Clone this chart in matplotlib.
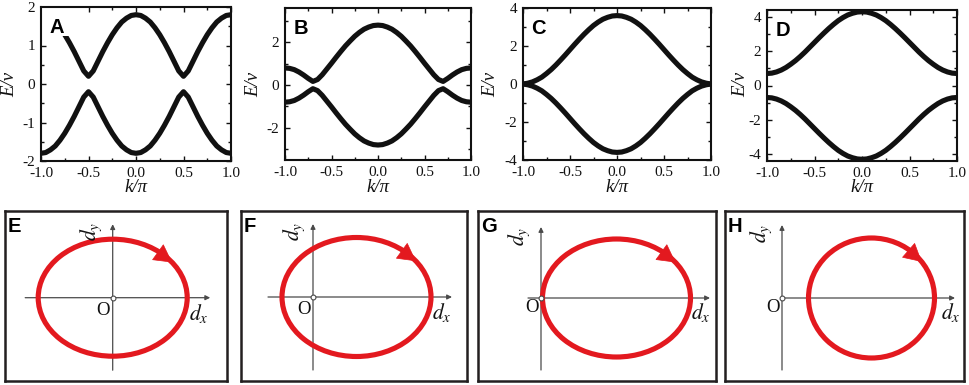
import numpy as np
import matplotlib
matplotlib.use('Agg')
import matplotlib.pyplot as plt
from matplotlib.patches import Ellipse, Rectangle, FancyArrowPatch
from matplotlib.ticker import MultipleLocator

plt.rcParams['axes.unicode_minus'] = False
plt.rcParams['mathtext.fontset'] = 'stix'

W, H = 969, 385
SERIF = 'Liberation Serif'
SANS = 'Liberation Sans'
RED = '#e3191f'
INK = '#111111'

# ── Band data, k in units of pi ───────────────────────────────────────
k_pi = np.linspace(-1.0, 1.0, 41)

upper_A = [1.80, 1.78, 1.71, 1.61, 1.46, 1.28, 1.07, 0.84, 0.59, 0.34, 0.20,
           0.34, 0.59, 0.84, 1.07, 1.28, 1.46, 1.61, 1.71, 1.78, 1.80,
           1.78, 1.71, 1.61, 1.46, 1.28, 1.07, 0.84, 0.59, 0.34, 0.20,
           0.34, 0.59, 0.84, 1.07, 1.28, 1.46, 1.61, 1.71, 1.78, 1.80]
lower_A = [-1.80, -1.78, -1.71, -1.61, -1.46, -1.28, -1.07, -0.84, -0.59, -0.34, -0.20,
           -0.34, -0.59, -0.84, -1.07, -1.28, -1.46, -1.61, -1.71, -1.78, -1.80,
           -1.78, -1.71, -1.61, -1.46, -1.28, -1.07, -0.84, -0.59, -0.34, -0.20,
           -0.34, -0.59, -0.84, -1.07, -1.28, -1.46, -1.61, -1.71, -1.78, -1.80]

upper_B = [0.80, 0.78, 0.72, 0.61, 0.47, 0.31, 0.17, 0.26, 0.48, 0.75, 1.02,
           1.30, 1.57, 1.83, 2.06, 2.28, 2.46, 2.61, 2.71, 2.78, 2.80,
           2.78, 2.71, 2.61, 2.46, 2.28, 2.06, 1.83, 1.57, 1.30, 1.02,
           0.75, 0.48, 0.26, 0.17, 0.31, 0.47, 0.61, 0.72, 0.78, 0.80]
lower_B = [-0.80, -0.78, -0.72, -0.61, -0.47, -0.31, -0.17, -0.26, -0.48, -0.75, -1.02,
           -1.30, -1.57, -1.83, -2.06, -2.28, -2.46, -2.61, -2.71, -2.78, -2.80,
           -2.78, -2.71, -2.61, -2.46, -2.28, -2.06, -1.83, -1.57, -1.30, -1.02,
           -0.75, -0.48, -0.26, -0.17, -0.31, -0.47, -0.61, -0.72, -0.78, -0.80]

upper_C = [0.00, 0.04, 0.11, 0.22, 0.36, 0.55, 0.76, 1.00, 1.26, 1.53, 1.81,
           2.09, 2.36, 2.62, 2.86, 3.08, 3.26, 3.41, 3.51, 3.58, 3.60,
           3.58, 3.51, 3.41, 3.26, 3.08, 2.86, 2.62, 2.36, 2.09, 1.81,
           1.53, 1.26, 1.00, 0.76, 0.55, 0.36, 0.22, 0.11, 0.04, 0.00]
lower_C = [-0.00, -0.04, -0.11, -0.22, -0.36, -0.55, -0.76, -1.00, -1.26, -1.53, -1.81,
           -2.09, -2.36, -2.62, -2.86, -3.08, -3.26, -3.41, -3.51, -3.58, -3.60,
           -3.58, -3.51, -3.41, -3.26, -3.08, -2.86, -2.62, -2.36, -2.09, -1.81,
           -1.53, -1.26, -1.00, -0.76, -0.55, -0.36, -0.22, -0.11, -0.04, -0.00]

upper_D = [0.70, 0.72, 0.79, 0.90, 1.05, 1.24, 1.45, 1.69, 1.95, 2.23, 2.51,
           2.79, 3.06, 3.32, 3.56, 3.78, 3.96, 4.11, 4.21, 4.28, 4.30,
           4.28, 4.21, 4.11, 3.96, 3.78, 3.56, 3.32, 3.06, 2.79, 2.51,
           2.23, 1.95, 1.69, 1.45, 1.24, 1.05, 0.90, 0.79, 0.72, 0.70]
lower_D = [-0.70, -0.72, -0.79, -0.90, -1.05, -1.24, -1.45, -1.69, -1.95, -2.23, -2.51,
           -2.79, -3.06, -3.32, -3.56, -3.78, -3.96, -4.11, -4.21, -4.28, -4.30,
           -4.28, -4.21, -4.11, -3.96, -3.78, -3.56, -3.32, -3.06, -2.79, -2.51,
           -2.23, -1.95, -1.69, -1.45, -1.24, -1.05, -0.90, -0.79, -0.72, -0.70]

# ── Winding loops of the d-vector (center and semi-axes) ──────────────
loop_labels = ['E', 'F', 'G', 'H']
loop_cx = [0.00, 0.87, 1.51, 1.79]
loop_cy = [0.00, 0.00, 0.00, 0.00]
loop_rx = [1.49, 1.49, 1.48, 1.26]
loop_ry = [1.17, 1.19, 1.18, 1.20]

fig = plt.figure(figsize=(W / 100, H / 100), dpi=100)
fig.patch.set_facecolor('white')


def px_axes(x0, y0, x1, y1):
    return fig.add_axes([x0 / W, 1 - y1 / H, (x1 - x0) / W, (y1 - y0) / H])


def px_text(x, y, s, **kw):
    fig.text(x / W, 1 - y / H, s, **kw)


# ── Top row: band structures ──────────────────────────────────────────
band_panels = [
    ('A', upper_A, lower_A, (-2, 2), 1, 0.5, (41, 7, 231, 161), 10),
    ('B', upper_B, lower_B, (-3.5, 3.6), 2, 1, (285, 8, 471, 160), 254),
    ('C', upper_C, lower_C, (-4, 4), 2, 1, (523, 8, 711, 160), 491),
    ('D', upper_D, lower_D, (-4.4, 4.4), 2, 1, (767, 10, 957, 161), 741),
]

for name, up, lo, ylim, ymaj, ymin, box, ylab_x in band_panels:
    ax = px_axes(*box)
    ax.plot(k_pi, up, color=INK, lw=3.7, solid_joinstyle='round', zorder=2)
    ax.plot(k_pi, lo, color=INK, lw=3.7, solid_joinstyle='round', zorder=2)
    ax.set_xlim(-1, 1)
    ax.set_ylim(*ylim)
    ax.xaxis.set_major_locator(MultipleLocator(0.5))
    ax.xaxis.set_minor_locator(MultipleLocator(0.25))
    ax.yaxis.set_major_locator(MultipleLocator(ymaj))
    ax.yaxis.set_minor_locator(MultipleLocator(ymin))
    ax.xaxis.set_major_formatter(plt.FuncFormatter(lambda v, _: f'{v:.1f}'))
    ax.yaxis.set_major_formatter(plt.FuncFormatter(lambda v, _: f'{v:.0f}'))
    ax.tick_params(which='both', direction='in', top=True, right=True,
                   width=1.0, colors=INK, labelsize=11)
    ax.tick_params(axis='y', pad=4)
    ax.tick_params(axis='x', pad=4)
    ax.tick_params(which='major', length=3.5)
    ax.tick_params(which='minor', length=2)
    for lab in ax.get_xticklabels() + ax.get_yticklabels():
        lab.set_fontfamily(SERIF)
    for sp in ax.spines.values():
        sp.set_linewidth(1.5)
        sp.set_color(INK)
        sp.set_zorder(5)
    px_text(ylab_x, 84, 'E/v', fontfamily=SERIF, fontstyle='italic',
            fontsize=13.5, rotation=90, ha='center', va='center', color=INK)
    px_text((box[0] + box[2]) / 2, 188, 'k/\u03c0', fontfamily=SERIF,
            fontstyle='italic', fontsize=13.5, ha='center', va='center',
            color=INK)
    if name == 'A':
        # the label sits on a white patch that hides the band underneath
        ax.add_patch(Rectangle((0, 0.81), 0.155, 0.19, transform=ax.transAxes,
                               facecolor='white', edgecolor='none', zorder=3))
    ax.text(0.045, 0.93, name, transform=ax.transAxes, fontfamily=SANS,
            fontweight='bold', fontsize=14.5, va='top', ha='left', zorder=4)

# ── Bottom row: d-vector loops ────────────────────────────────────────
loop_boxes = [(5, 211, 227, 381), (241, 211, 467, 381),
              (478, 211, 716, 381), (725, 211, 964, 381)]
loop_origin = [(112.7, 297.7), (313, 297), (541, 298), (782, 298)]
axis_x_span = [(-1.75, 1.95), (-0.90, 2.78), (-0.26, 3.38), (0.0, 3.46)]
axis_y_span = [(-1.45, 1.47), (-1.46, 1.46), (-1.44, 1.42), (-1.44, 1.46)]
dy_pos = [(-0.43, 1.33), (-0.38, 1.32), (-0.44, 1.24), (-0.42, 1.30)]
o_pos = [(-0.20, -0.25), (-0.17, -0.24), (-0.18, -0.20), (-0.18, -0.20)]
dx_pos = [(1.73, -0.31), (2.58, -0.30), (3.20, -0.28), (3.38, -0.28)]
SCALE = 50.0  # pixels per unit

for i, name in enumerate(loop_labels):
    x0, y0, x1, y1 = loop_boxes[i]
    ox, oy = loop_origin[i]
    ax = px_axes(x0, y0, x1, y1)
    ax.set_xlim((x0 - ox) / SCALE, (x1 - ox) / SCALE)
    ax.set_ylim(-(y1 - oy) / SCALE, (oy - y0) / SCALE)
    ax.set_xticks([])
    ax.set_yticks([])
    for sp in ax.spines.values():
        sp.set_linewidth(1.8)
        sp.set_color('#231f20')

    ax_kw = dict(arrowstyle='-|>', color='#4a4a4a', lw=0.9,
                 mutation_scale=7, shrinkA=0, shrinkB=0)
    xs, xe = axis_x_span[i]
    ys, ye = axis_y_span[i]
    ax.annotate('', xy=(xe, 0), xytext=(xs, 0), arrowprops=ax_kw, zorder=2)
    ax.annotate('', xy=(0, ye), xytext=(0, ys), arrowprops=ax_kw, zorder=2)

    cx, cy, rx, ry = loop_cx[i], loop_cy[i], loop_rx[i], loop_ry[i]
    ax.add_patch(Ellipse((cx, cy), 2 * rx, 2 * ry, fill=False,
                         edgecolor=RED, lw=3.7, zorder=3))
    t0, t1 = np.radians(58), np.radians(37)
    arr = FancyArrowPatch((cx + rx * np.cos(t0), cy + ry * np.sin(t0)),
                          (cx + rx * np.cos(t1), cy + ry * np.sin(t1)),
                          arrowstyle='-|>,head_length=0.55,head_width=0.3',
                          mutation_scale=22, color=RED,
                          lw=0.5, shrinkA=0, shrinkB=0, zorder=4)
    ax.add_patch(arr)

    ax.plot(0, 0, 'o', ms=3.5, mfc='white', mec='#4a4a4a', mew=0.8, zorder=5)

    ax.text(*dy_pos[i], r'$d_y$', fontsize=15.5, rotation=90,
            ha='center', va='center', color=INK)
    ax.text(*o_pos[i], 'O', fontfamily=SERIF, fontsize=13.5,
            ha='center', va='center', color=INK)
    ax.text(*dx_pos[i], r'$d_x$', fontsize=15.5,
            ha='center', va='center', color=INK)
    ax.text(0.012, 0.965, name, transform=ax.transAxes, fontfamily=SANS,
            fontweight='bold', fontsize=14.5, va='top', ha='left')

plt.savefig('out.png', dpi=100, facecolor='white')
plt.close()
